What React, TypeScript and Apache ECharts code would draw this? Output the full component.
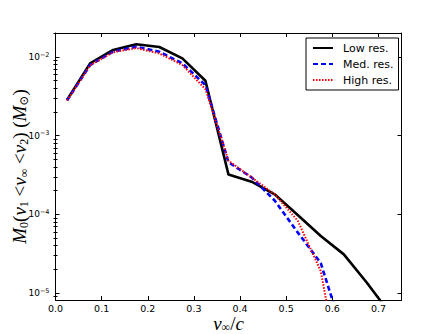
import React, { useEffect, useRef } from "react";
import * as echarts from "echarts";

// Bin centres of v_inf / c
const velocityBins = [0.025, 0.075, 0.125, 0.175, 0.225, 0.275, 0.325, 0.375, 0.425, 0.475, 0.525, 0.575, 0.625, 0.675, 0.725];
// Ejecta mass per velocity bin (M_sun)
const lowRes = [2.85e-3, 8.3e-3, 1.23e-2, 1.45e-2, 1.34e-2, 9.6e-3, 5.0e-3, 3.2e-4, 2.6e-4, 1.8e-4, 9.8e-5, 5.3e-5, 3.1e-5, 1.35e-5, 5.5e-6];
const medRes = [2.8e-3, 7.9e-3, 1.17e-2, 1.35e-2, 1.17e-2, 8.3e-3, 4.4e-3, 4.6e-4, 2.95e-4, 1.5e-4, 5.9e-5, 2.4e-5, 2.85e-6];
const highRes = [2.8e-3, 7.8e-3, 1.15e-2, 1.3e-2, 1.11e-2, 7.9e-3, 3.9e-3, 4.8e-4, 2.95e-4, 1.8e-4, 8.3e-5, 1.9e-5, 5e-7];

const seriesNames = ["Low res.", "Med. res.", "High res."];
const xTickValues = [0, 0.1, 0.2, 0.3, 0.4, 0.5, 0.6, 0.7];
const yMajorTicks = [1e-5, 1e-4, 1e-3, 1e-2];

const X_MIN = 0;
const X_MAX = 0.75;
const Y_MIN = 8.15e-6;
const Y_MAX = 0.0202;

const yMinorTicks: number[] = [];
for (let e = -6; e <= -2; e++) {
  for (let k = 2; k <= 9; k++) {
    const v = k * Math.pow(10, e);
    if (v >= Y_MIN && v <= Y_MAX) yMinorTicks.push(v);
  }
}

const pairs = (vals: number[]) => vals.map((v, i) => [velocityBins[i], v]);

const SERIF = "'Liberation Serif', 'DejaVu Serif', serif";
const SANS = "'DejaVu Sans', sans-serif";

export default function App() {
  const ref = useRef<HTMLDivElement>(null);
  useEffect(() => {
    if (!ref.current) return;
    const chart = echarts.init(ref.current, null, { renderer: "svg" });
    const lineBlack = { color: "#000", width: 1 };
    const yCommon = {
      type: "log" as const,
      logBase: 10,
      min: Y_MIN,
      max: Y_MAX,
      splitLine: { show: false },
      gridIndex: 0,
    };
    const xCommon = {
      type: "value" as const,
      min: X_MIN,
      max: X_MAX,
      splitLine: { show: false },
      gridIndex: 0,
    };
    const nameRich = {
      i: { fontFamily: SERIF, fontStyle: "italic", fontSize: 19, lineHeight: 20, color: "#000" },
      r: { fontFamily: SERIF, fontSize: 19, lineHeight: 20, color: "#000" },
      s: { fontFamily: SERIF, fontSize: 12, lineHeight: 12, verticalAlign: "bottom", color: "#000" },
    };
    chart.setOption({
      animation: false,
      backgroundColor: "#fff",
      grid: { left: 55.5, right: 44.5, top: 33, bottom: 34, outerBoundsMode: "none", containLabel: false },
      legend: {
        data: seriesNames,
        orient: "vertical",
        left: 306,
        top: 38,
        padding: [3, 5, 3, 6],
        itemGap: 2,
        itemWidth: 20,
        itemHeight: 14,
        borderColor: "#000",
        borderWidth: 1,
        borderRadius: 0,
        backgroundColor: "#fff",
        itemStyle: { opacity: 0 },
        textStyle: { fontSize: 11, fontFamily: SANS, color: "#000", lineHeight: 14, padding: [0, 0, 0, 5] },
      },
      xAxis: [
        {
          ...xCommon,
          position: "bottom",
          axisLine: { show: true, onZero: false, lineStyle: lineBlack },
          axisTick: { show: true, inside: true, length: 4, customValues: xTickValues, lineStyle: lineBlack },
          axisLabel: {
            customValues: xTickValues,
            formatter: (v: number) => v.toFixed(1),
            fontSize: 9.5,
            fontFamily: SANS,
            color: "#000",
            margin: 3,
          },
          name: "{i|v}{s|∞}{r|/}{i|c}",
          nameLocation: "middle",
          nameGap: 13,
          nameMoveOverlap: false,
          nameTextStyle: { rich: nameRich },
        },
        {
          ...xCommon,
          position: "top",
          axisLine: { show: true, onZero: false, lineStyle: lineBlack },
          axisTick: { show: true, inside: true, length: 4, customValues: xTickValues, lineStyle: lineBlack },
          axisLabel: { show: false },
        },
      ],
      yAxis: [
        {
          ...yCommon,
          position: "left",
          axisLine: { show: true, onZero: false, lineStyle: lineBlack },
          axisTick: { show: true, inside: true, length: 4, customValues: yMajorTicks, lineStyle: lineBlack },
          axisLabel: {
            customValues: yMajorTicks,
            formatter: (v: number) => `{b|10}{s|−${Math.abs(Math.round(Math.log10(v)))}}`,
            margin: 6,
            rich: {
              b: { fontSize: 9, fontFamily: SANS, color: "#000", lineHeight: 12 },
              s: { fontSize: 6.5, fontFamily: SANS, color: "#000", lineHeight: 7, verticalAlign: "top" },
            },
          },
          name: "{i|M}{s|0}{r|(}{i|v}{s|1}{r| <}{i|v}{s|∞}{r| <}{i|v}{s|2}{r|) (}{i|M}{s|⊙}{r|)}",
          nameLocation: "middle",
          nameRotate: 90,
          nameGap: 26,
          nameMoveOverlap: false,
          nameTextStyle: { rich: nameRich },
        },
        {
          ...yCommon,
          position: "left",
          axisLine: { show: false },
          axisTick: { show: true, inside: true, length: 2, customValues: yMinorTicks, lineStyle: lineBlack },
          axisLabel: { show: false },
        },
        {
          ...yCommon,
          position: "right",
          axisLine: { show: true, onZero: false, lineStyle: lineBlack },
          axisTick: { show: true, inside: true, length: 4, customValues: yMajorTicks, lineStyle: lineBlack },
          axisLabel: { show: false },
        },
        {
          ...yCommon,
          position: "right",
          axisLine: { show: false },
          axisTick: { show: true, inside: true, length: 2, customValues: yMinorTicks, lineStyle: lineBlack },
          axisLabel: { show: false },
        },
      ],
      series: [
        {
          name: seriesNames[0],
          type: "line",
          data: pairs(lowRes),
          symbol: "none",
          showSymbol: false,
          xAxisIndex: 0,
          yAxisIndex: 0,
          lineStyle: { color: "#000000", width: 2.6 },
          itemStyle: { color: "#000000" },
          z: 2,
        },
        {
          name: seriesNames[1],
          type: "line",
          data: pairs(medRes),
          symbol: "none",
          showSymbol: false,
          xAxisIndex: 0,
          yAxisIndex: 0,
          lineStyle: { color: "#0000ff", width: 2.6, type: [5, 3] },
          itemStyle: { color: "#0000ff" },
          z: 3,
        },
        {
          name: seriesNames[2],
          type: "line",
          data: pairs(highRes),
          symbol: "none",
          showSymbol: false,
          xAxisIndex: 0,
          yAxisIndex: 0,
          lineStyle: { color: "#ff0000", width: 2, type: [1.5, 1.5] },
          itemStyle: { color: "#ff0000" },
          z: 4,
        },
      ],
    });
    return () => chart.dispose();
  }, []);
  return (
    <div
      ref={ref}
      style={{ position: "absolute", left: 0, top: 0, width: 446, height: 334, background: "#fff" }}
    />
  );
}
